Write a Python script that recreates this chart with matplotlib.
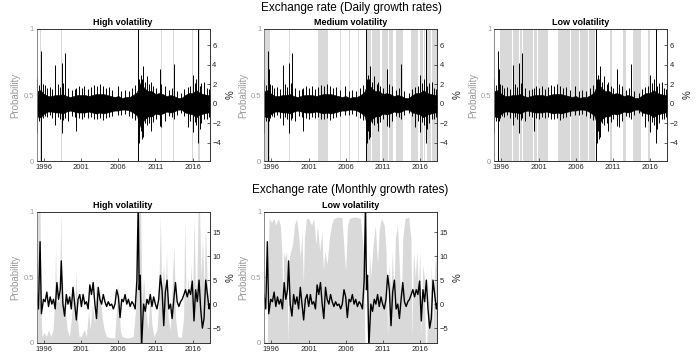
import numpy as np
import matplotlib.pyplot as plt

plt.rcParams['font.family'] = ['Liberation Sans', 'DejaVu Sans']

# ---- daily data ----
# regime switches (start year, state): L = low, M = medium, H = high volatility
regime_start = [1995.00, 1995.50, 1995.60, 1995.75, 1995.95, 1996.00, 1996.32, 1996.36, 1996.64, 1996.68,
                1997.02, 1997.06, 1997.30, 1997.34, 1997.46, 1997.52, 1997.58, 1997.96, 1998.00, 1998.30,
                1998.40, 1998.48, 1998.78, 1998.86, 1998.92, 1999.26, 1999.30, 1999.56, 1999.60, 1999.92,
                1999.96, 2000.28, 2000.36, 2000.42, 2000.82, 2000.86, 2001.18, 2001.24, 2001.62, 2001.66,
                2001.96, 2002.02, 2002.30, 2003.45, 2003.52, 2003.60, 2004.10, 2004.16, 2004.70, 2004.76,
                2005.30, 2005.34, 2005.86, 2005.92, 2006.50, 2006.54, 2007.20, 2007.24, 2007.70, 2007.74,
                2008.20, 2008.26, 2008.62, 2008.82, 2009.42, 2009.50, 2010.36, 2010.42, 2010.60, 2010.95,
                2011.72, 2011.90, 2012.40, 2012.85, 2013.42, 2013.50, 2013.68, 2014.80, 2015.33, 2015.41,
                2015.80, 2015.98, 2016.06, 2016.45, 2016.53, 2016.72, 2016.95, 2017.52, 2017.60]
regime_state = ['M', 'H', 'M', 'L', 'M', 'L', 'M', 'L', 'M', 'L',
                'M', 'L', 'M', 'L', 'H', 'M', 'L', 'M', 'L', 'H',
                'M', 'L', 'H', 'M', 'L', 'M', 'L', 'M', 'L', 'M',
                'L', 'H', 'M', 'L', 'M', 'L', 'M', 'L', 'M', 'L',
                'M', 'L', 'M', 'L', 'M', 'L', 'M', 'L', 'M', 'L',
                'M', 'L', 'M', 'L', 'M', 'L', 'M', 'L', 'M', 'L',
                'M', 'L', 'H', 'M', 'H', 'M', 'H', 'M', 'L', 'M',
                'H', 'M', 'L', 'M', 'H', 'M', 'L', 'M', 'H', 'M',
                'L', 'H', 'M', 'H', 'M', 'H', 'M', 'H', 'M']
sample_end = 2018.30

# dense core of daily growth rates (half-year envelope, %)
core_dates = [1995.0, 1995.5, 1996.0, 1996.5, 1997.0, 1997.5, 1998.0, 1998.5, 1999.0, 1999.5,
              2000.0, 2000.5, 2001.0, 2001.5, 2002.0, 2002.5, 2003.0, 2003.5, 2004.0, 2004.5,
              2005.0, 2005.5, 2006.0, 2006.5, 2007.0, 2007.5, 2008.0, 2008.5, 2009.0, 2009.5,
              2010.0, 2010.5, 2011.0, 2011.5, 2012.0, 2012.5, 2013.0, 2013.5, 2014.0, 2014.5,
              2015.0, 2015.5, 2016.0, 2016.5, 2017.0, 2017.5, 2018.0, 2018.3]
core_hi = [1.3, 1.4, 1.0, 0.8, 0.8, 0.9, 0.9, 1.0, 0.8, 0.7,
           0.8, 0.9, 0.9, 0.9, 0.8, 0.9, 1.0, 1.0, 1.0, 0.9,
           0.8, 0.7, 0.8, 0.6, 0.7, 0.7, 0.9, 1.2, 2.2, 1.6,
           1.3, 1.3, 1.0, 1.1, 1.0, 0.8, 0.9, 0.8, 0.6, 0.6,
           0.9, 1.1, 1.1, 1.4, 1.1, 1.0, 0.9, 0.9]
core_lo = [-1.3, -1.4, -1.0, -0.8, -0.8, -0.9, -0.9, -1.0, -0.8, -0.7,
           -0.8, -0.9, -0.9, -0.9, -0.8, -0.9, -1.0, -0.9, -1.0, -0.9,
           -0.8, -0.7, -0.7, -0.6, -0.6, -0.7, -0.9, -1.2, -2.4, -1.6,
           -1.3, -1.3, -1.0, -1.1, -1.0, -0.8, -0.9, -0.8, -0.6, -0.6,
           -0.9, -1.0, -1.1, -1.4, -1.1, -1.0, -0.9, -0.9]

# larger daily moves (date, max, min)
spike_dates = [1995.05, 1995.25, 1995.55, 1995.62, 1995.85, 1996.05, 1996.40, 1996.80, 1997.10, 1997.50,
               1997.80, 1998.10, 1998.38, 1998.60, 1998.82, 1999.20, 1999.70, 2000.10, 2000.32, 2000.70,
               2001.10, 2001.40, 2001.90, 2002.30, 2002.70, 2003.10, 2003.50, 2003.90, 2004.30, 2004.70,
               2005.20, 2005.90, 2006.40, 2006.90, 2007.40, 2007.90, 2008.30, 2008.68, 2008.85, 2009.00,
               2009.15, 2009.30, 2009.60, 2009.85, 2010.20, 2010.40, 2010.70, 2011.10, 2011.60, 2011.80,
               2012.30, 2012.80, 2013.20, 2013.45, 2013.90, 2014.50, 2014.90, 2015.35, 2015.70, 2016.08,
               2016.30, 2016.50, 2016.78, 2017.00, 2017.20, 2017.60, 2017.90, 2018.20]
spike_hi = [2.6, 1.9, 5.4, 3.6, 2.0, 1.9, 1.6, 1.7, 1.5, 4.0,
            2.0, 1.7, 4.2, 2.1, 5.2, 1.6, 1.4, 1.5, 1.6, 1.8,
            1.6, 1.8, 1.5, 1.7, 1.9, 1.8, 2.0, 1.8, 1.6, 1.7,
            1.4, 1.8, 1.3, 1.4, 1.3, 1.6, 1.9, 8.0, 2.5, 3.0,
            2.6, 3.9, 2.2, 2.9, 2.0, 2.2, 1.8, 1.6, 3.6, 2.0,
            1.8, 1.4, 1.6, 4.1, 1.3, 1.1, 1.5, 1.7, 1.8, 3.0,
            2.1, 2.5, 8.0, 1.8, 2.1, 2.2, 1.6, 1.5]
spike_lo = [-3.0, -1.8, -7.0, -1.8, -1.5, -1.3, -1.4, -1.2, -1.5, -2.2,
            -1.4, -1.6, -3.0, -1.7, -1.5, -1.8, -1.3, -1.4, -2.8, -1.5,
            -1.6, -1.4, -1.5, -1.4, -1.6, -1.6, -1.5, -1.7, -1.5, -1.4,
            -1.3, -1.2, -1.2, -1.1, -1.3, -1.5, -1.7, -7.0, -4.0, -2.8,
            -3.6, -3.4, -2.0, -2.2, -2.0, -2.8, -1.9, -1.6, -2.3, -2.4,
            -1.8, -1.3, -1.4, -1.6, -1.2, -1.0, -1.3, -2.4, -1.8, -2.9,
            -1.9, -2.2, -4.0, -2.6, -2.0, -1.6, -1.6, -1.4]

# ---- monthly data ----
month_dates = [1995.00, 1995.23, 1995.45, 1995.63, 1995.91, 1996.13, 1996.36, 1996.59, 1996.81, 1997.04,
               1997.26, 1997.49, 1997.72, 1997.94, 1998.17, 1998.31, 1998.53, 1998.76, 1998.99, 1999.21,
               1999.44, 1999.66, 1999.89, 2000.12, 2000.34, 2000.57, 2000.80, 2001.02, 2001.25, 2001.48,
               2001.70, 2001.93, 2002.16, 2002.38, 2002.61, 2002.84, 2003.06, 2003.29, 2003.51, 2003.74,
               2003.97, 2004.19, 2004.42, 2004.65, 2004.87, 2005.10, 2005.33, 2005.55, 2005.78, 2006.01,
               2006.23, 2006.46, 2006.68, 2006.91, 2007.14, 2007.36, 2007.59, 2007.82, 2008.04, 2008.27,
               2008.50, 2008.68, 2008.81, 2008.95, 2009.13, 2009.40, 2009.63, 2009.86, 2010.08, 2010.31,
               2010.53, 2010.76, 2010.99, 2011.21, 2011.44, 2011.67, 2011.89, 2012.12, 2012.34, 2012.57,
               2012.80, 2013.03, 2013.25, 2013.48, 2013.70, 2013.93, 2014.16, 2014.38, 2014.61, 2014.84,
               2015.06, 2015.29, 2015.52, 2015.74, 2015.97, 2016.20, 2016.42, 2016.65, 2016.88, 2017.10,
               2017.33, 2017.55, 2017.78, 2018.01, 2018.24, 2018.30]
month_growth = [2.0, -1.0, 13.0, -2.0, 1.0, 0.5, 2.5, -0.5, 1.5, 0.0,
                1.0, -1.0, 4.5, 1.0, 3.0, 9.0, 0.0, -2.5, 2.0, 0.0,
                1.5, -1.0, 3.5, 0.0, -3.3, 1.0, 2.0, -0.5, 2.0, 0.0,
                0.5, -1.0, 4.0, 2.0, 4.5, 0.0, -3.0, 3.5, 1.0, 0.0,
                2.0, 0.5, -0.5, 0.5, -0.3, 0.0, -1.0, 0.0, 3.0, 1.5,
                -2.8, 1.0, 0.5, 2.0, 0.0, 1.0, -0.5, 0.5, 0.0, -1.0,
                5.0, 21.0, 3.0, 6.0, -9.0, 0.0, -1.5, 1.0, 0.0, 2.0,
                -0.5, 1.5, 0.0, -1.0, 1.0, 6.0, 3.0, -4.5, 2.5, 5.0,
                -1.0, 0.0, -3.0, 1.0, 4.5, 0.5, -0.5, 0.5, 1.0, 2.0,
                3.0, 1.5, 3.0, 2.0, 4.8, -3.5, 3.0, 0.5, 5.0, -1.0,
                -5.0, -3.0, 5.0, 2.0, -1.0, 0.0]

prob_dates = [1995.00, 1995.20, 1995.45, 1995.55, 1995.70, 1996.00, 1996.30, 1996.60, 1996.90, 1997.20,
              1997.40, 1997.55, 1997.65, 1997.85, 1998.05, 1998.25, 1998.40, 1998.60, 1998.85, 1999.10,
              1999.40, 1999.70, 1999.90, 2000.10, 2000.30, 2000.45, 2000.70, 2001.00, 2001.40, 2001.70,
              2002.00, 2002.20, 2002.50, 2002.80, 2003.00, 2003.20, 2003.50, 2003.80, 2004.10, 2004.40,
              2005.00, 2005.50, 2005.80, 2006.00, 2006.25, 2006.50, 2007.00, 2007.50, 2008.00, 2008.40,
              2008.60, 2009.00, 2009.20, 2009.40, 2009.70, 2010.00, 2010.30, 2010.50, 2010.80, 2011.20,
              2011.45, 2011.65, 2011.85, 2012.10, 2012.30, 2012.50, 2012.70, 2013.00, 2013.30, 2013.50,
              2013.70, 2014.00, 2014.50, 2014.80, 2014.95, 2015.15, 2015.40, 2015.60, 2015.80, 2016.00,
              2016.20, 2016.40, 2016.60, 2016.75, 2016.95, 2017.15, 2017.35, 2017.55, 2017.75, 2017.95,
              2018.15, 2018.30]
prob_high = [0.95, 1.0, 1.0, 0.3, 0.05, 0.08, 0.05, 0.1, 0.05, 0.1,
             0.3, 0.75, 0.3, 0.35, 0.3, 1.0, 0.35, 0.3, 0.25, 0.1,
             0.05, 0.2, 0.35, 0.15, 0.55, 0.2, 0.05, 0.05, 0.1, 0.05,
             0.25, 0.1, 0.3, 0.15, 0.45, 0.3, 0.4, 0.2, 0.1, 0.05,
             0.04, 0.04, 0.3, 0.45, 0.1, 0.05, 0.04, 0.04, 0.05, 0.3,
             1.0, 1.0, 0.3, 0.5, 0.25, 0.1, 0.4, 0.15, 0.05, 0.1,
             0.3, 0.97, 0.4, 0.6, 0.3, 0.7, 0.2, 0.1, 0.5, 0.75,
             0.2, 0.05, 0.04, 0.2, 0.95, 0.3, 0.5, 0.3, 0.6, 0.3,
             0.95, 0.4, 0.5, 1.0, 1.0, 0.5, 0.8, 0.4, 0.9, 0.5,
             0.3, 0.5]

x_ticks = [1996, 2001, 2006, 2011, 2016]
grey = '#d9d9d9'
label_grey = '#9a9a9a'
x_range = (1995.0, 2018.3)


def style_pair(ax, ax2, title, right_ticks, right_lim):
    ax.set_xlim(*x_range)
    ax.set_ylim(0, 1)
    ax.set_yticks([0, 0.5, 1])
    ax.set_yticklabels(['0', '0.5', '1'])
    ax.set_xticks(x_ticks)
    ax.tick_params(axis='x', labelsize=5.5, direction='in', length=2, width=0.5, pad=2, colors='#262626')
    ax.tick_params(axis='y', labelsize=5.5, direction='in', length=2, width=0.5, pad=2, colors=label_grey)
    ax.set_ylabel('Probability', fontsize=7, color=label_grey, labelpad=2)
    ax.set_title(title, fontsize=6.5, fontweight='bold', pad=2.5)
    ax2.set_ylim(*right_lim)
    ax2.set_yticks(right_ticks)
    ax2.tick_params(axis='y', labelsize=5.5, direction='in', length=2, width=0.5, pad=2, colors='#262626')
    ax2.set_ylabel('%', fontsize=7, color='#262626', labelpad=3)
    for a in (ax, ax2):
        for side in a.spines:
            a.spines[side].set_linewidth(0.5)
            a.spines[side].set_color('#262626')
    ax2.spines['left'].set_color(label_grey)


fig = plt.figure(figsize=(6.97, 3.62), dpi=100)
lefts = [0.0527, 0.3788, 0.7088]
width = 0.248

# top row: daily
edges = regime_start + [sample_end]
for i, (state, title) in enumerate([('H', 'High volatility'), ('M', 'Medium volatility'), ('L', 'Low volatility')]):
    ax = fig.add_axes([lefts[i], 0.555, width, 0.365])
    prob = [1.0 if s == state else 0.0 for s in regime_state]
    ax.fill_between(edges, 0, prob + [prob[-1]], step='post', color=grey, lw=0)
    ax2 = ax.twinx()
    ax2.fill_between(core_dates, core_lo, core_hi, color='black', lw=0.4)
    ax2.vlines(spike_dates, spike_lo, spike_hi, color='black', lw=0.7)
    style_pair(ax, ax2, title, [-4, -2, 0, 2, 4, 6], (-5.9, 7.7))

# bottom row: monthly
prob_low = [1.0 - p for p in prob_high]
for i, (probs, title) in enumerate([(prob_high, 'High volatility'), (prob_low, 'Low volatility')]):
    ax = fig.add_axes([lefts[i], 0.0525, width, 0.362])
    ax.fill_between(prob_dates, 0, probs, color=grey, lw=0)
    ax2 = ax.twinx()
    ax2.plot(month_dates, month_growth, color='black', lw=1.0)
    style_pair(ax, ax2, title, [-5, 0, 5, 10, 15], (-8.1, 19.2))

fig.text(0.504, 0.978, 'Exchange rate (Daily growth rates)', ha='center', va='center', fontsize=8.5)
fig.text(0.503, 0.475, 'Exchange rate (Monthly growth rates)', ha='center', va='center', fontsize=8.5)

fig.savefig('out.png', dpi=100)
plt.close(fig)
